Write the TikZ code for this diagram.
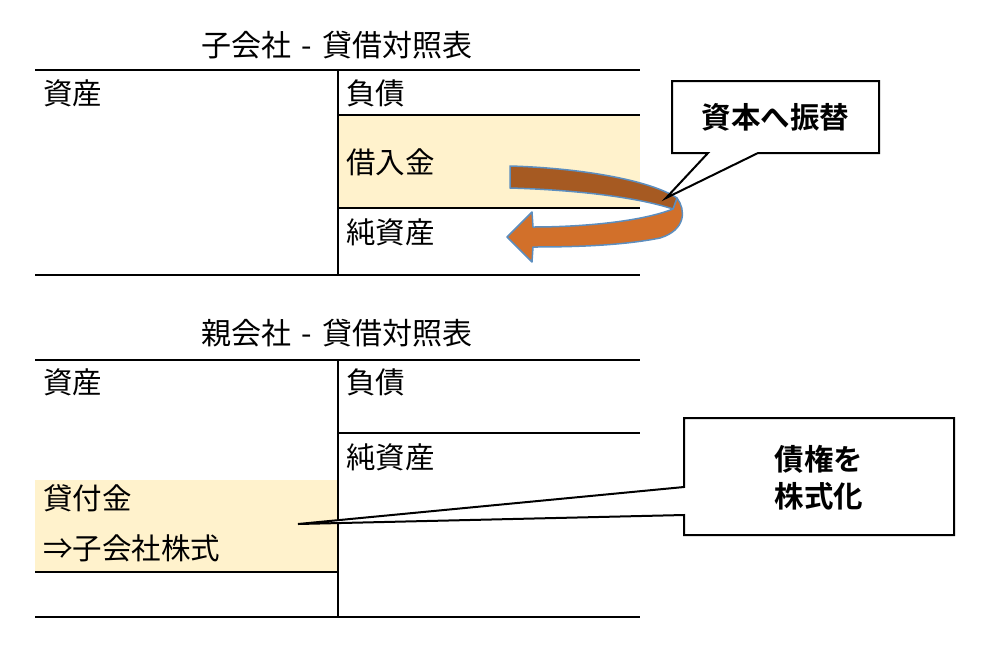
\documentclass[tikz,border=0pt]{standalone}
\usepackage{fontspec}
\setmainfont{Noto Sans CJK JP}
\newfontfamily\cjkbold{Noto Sans CJK JP Bold}
\definecolor{cream}{HTML}{FFF2CC}
\definecolor{rustdark}{HTML}{A65A22}
\definecolor{rustlight}{HTML}{D2702A}
\definecolor{ribbonedge}{HTML}{5C8EBF}
\tikzset{
  rule/.style={line width=2pt, black},
  lbl/.style={anchor=west, inner sep=0pt, font=\fontsize{29.5}{33}\selectfont},
  ttl/.style={inner sep=0pt, font=\fontsize{30}{34}\selectfont},
  callout/.style={draw=black, line width=2pt, fill=white, line join=miter},
  ctext/.style={inner sep=0pt, align=center, font=\cjkbold\fontsize{29.5}{37}\selectfont},
  ribbon/.style={draw=ribbonedge, line width=1.5pt, line join=round}
}
\begin{document}
\begin{tikzpicture}[x=1pt,y=-1pt]
\useasboundingbox (0,0) rectangle (1000,670);
% ---------- subsidiary balance sheet ----------
\fill[cream] (338,115) rectangle (640,208);
\node[ttl] (t1) at (337,45) {子会社\hspace{0.35em}-\hspace{0.35em}貸借対照表};
\draw[rule] (35,70) -- (640,70);
\draw[rule] (338,70) -- (338,275);
\draw[rule] (338,115) -- (640,115);
\draw[rule] (338,208) -- (640,208);
\draw[rule] (35,275) -- (640,275);
\node[lbl] (a1) at (43,93) {資産};
\node[lbl] (l1) at (346,93) {負債};
\node[lbl] (b1) at (346,162) {借入金};
\node[lbl] (n1) at (346,232) {純資産};
% ---------- ribbon arrow ----------
\filldraw[ribbon, fill=rustlight] (677,198) .. controls (686,210) and (686,230) .. (660,238)
  .. controls (620,246) and (570,247) .. (533,247) -- (532,262) -- (507,237) -- (532,212)
  -- (533,227) .. controls (580,227) and (640,222) .. (673,209) -- cycle;
\filldraw[ribbon, fill=rustdark] (510,166) .. controls (580,168) and (650,180) .. (677,198)
  -- (673,209) .. controls (640,198) and (580,190) .. (510,188) -- cycle;
% ---------- callout 1 ----------
\coordinate (c1tip) at (666,198);
\draw[callout] (672,81) -- (879,81) -- (879,153) -- (758,153) -- (c1tip) -- (708,153) -- (672,153) -- cycle;
\node[ctext] (c1) at (775.5,117) {資本へ振替};
% ---------- parent balance sheet ----------
\fill[cream] (35,480) rectangle (338,572);
\node[ttl] (t2) at (337,333) {親会社\hspace{0.35em}-\hspace{0.35em}貸借対照表};
\draw[rule] (35,360) -- (640,360);
\draw[rule] (338,360) -- (338,617);
\draw[rule] (338,433) -- (640,433);
\draw[rule] (35,572) -- (338,572);
\draw[rule] (35,617) -- (640,617);
\node[lbl] (a2) at (43,382) {資産};
\node[lbl] (l2) at (346,382) {負債};
\node[lbl] (n2) at (346,457) {純資産};
\node[lbl] (k2) at (43,498) {貸付金};
\node[lbl] (s2) at (43,548) {⇒子会社株式};
% ---------- callout 2 ----------
\coordinate (c2tip) at (298,524);
\draw[callout] (684,418) -- (954,418) -- (954,535) -- (684,535) -- (684,515) -- (c2tip) -- (684,487) -- cycle;
\node[ctext] (c2) at (819,478) {債権を\\株式化};
\end{tikzpicture}
\end{document}
